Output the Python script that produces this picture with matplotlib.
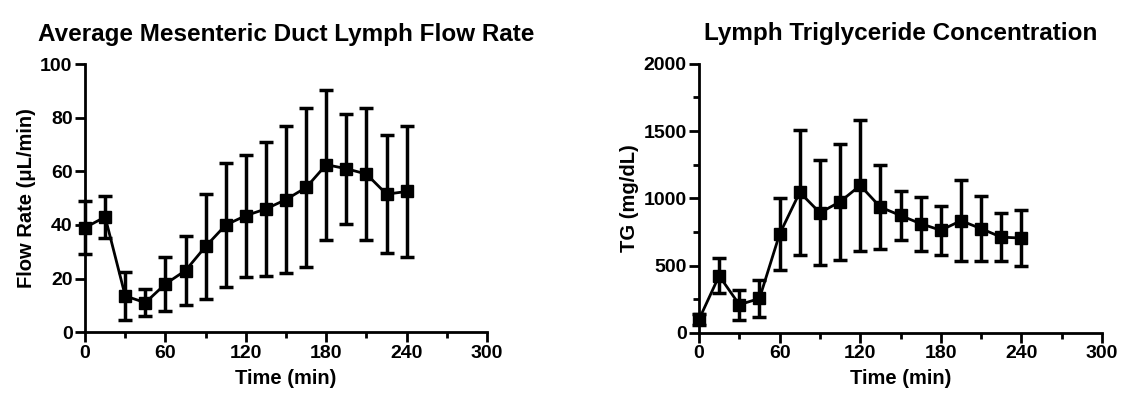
import numpy as np
import matplotlib.pyplot as plt
from matplotlib.ticker import MultipleLocator

plt.rcParams['font.family'] = ['Liberation Sans', 'DejaVu Sans']
plt.rcParams['font.weight'] = 'bold'

# sampling times (min)
time = [0, 15, 30, 45, 60, 75, 90, 105, 120, 135, 150, 165, 180, 195, 210, 225, 240]

# lymph flow rate (uL/min), mean and SD
flow_mean = [39, 43, 13.5, 11, 18, 23, 32, 40, 43.5, 46, 49.5, 54, 62.5, 61, 59, 51.5, 52.5]
flow_sd = [10, 8, 9, 5, 10, 13, 19.5, 23, 22.8, 25, 27.5, 29.5, 28, 20.5, 24.5, 22, 24.3]

# lymph triglyceride (mg/dL), mean and SD
tg_mean = [100, 425, 210, 256, 735, 1045, 893, 975, 1096, 935, 873, 812, 763, 834, 775, 712, 705]
tg_sd = [40, 130, 112, 137, 265, 463, 390, 430, 488, 310, 180, 200, 183, 300, 240, 180, 210]


def panel(ax, y, err, title, ylabel, ymax, ystep, yminor=None):
    ax.errorbar(time, y, yerr=err, color='black', lw=2, marker='s', ms=9,
                elinewidth=2.5, capsize=5, capthick=2.5, clip_on=False, zorder=3)
    ax.set_xlim(0, 300)
    ax.set_ylim(0, ymax)
    ax.xaxis.set_major_locator(MultipleLocator(60))
    ax.xaxis.set_minor_locator(MultipleLocator(30))
    ax.yaxis.set_major_locator(MultipleLocator(ystep))
    if yminor:
        ax.yaxis.set_minor_locator(MultipleLocator(yminor))
    for s in ['top', 'right']:
        ax.spines[s].set_visible(False)
    for s in ['left', 'bottom']:
        ax.spines[s].set_linewidth(2)
    ax.tick_params(which='major', length=7, width=2, labelsize=14, pad=2)
    ax.tick_params(which='minor', length=4, width=2)
    ax.set_title(title, fontsize=17.5, fontweight='bold', pad=17)
    ax.set_xlabel('Time (min)', fontsize=14.5, fontweight='bold', labelpad=5)
    ax.set_ylabel(ylabel, fontsize=14.5, fontweight='bold', labelpad=3)


fig = plt.figure(figsize=(11.22, 3.94), dpi=100)
ax1 = fig.add_axes([0.0758, 0.157, 0.3583, 0.680])
ax2 = fig.add_axes([0.623, 0.155, 0.3592, 0.683])

panel(ax1, flow_mean, flow_sd, 'Average Mesenteric Duct Lymph Flow Rate',
      'Flow Rate (\u03bcL/min)', 100, 20)
panel(ax2, tg_mean, tg_sd, 'Lymph Triglyceride Concentration',
      'TG (mg/dL)', 2000, 500, 250)

fig.savefig('out.png', dpi=100)
